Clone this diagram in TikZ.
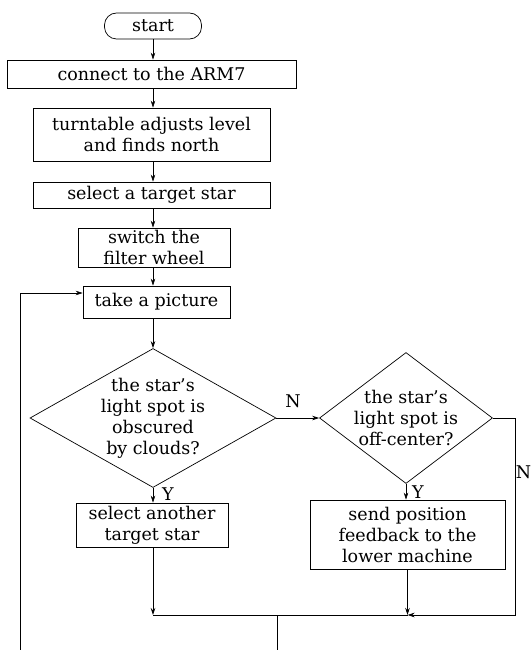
\documentclass[tikz,border=0pt]{standalone}
\usepackage{fontspec}
\setmainfont{DejaVu Serif}
\usetikzlibrary{arrows.meta,shapes.geometric}
\begin{document}
\begin{tikzpicture}[x=1pt,y=-1pt,line width=0.7pt,>={Stealth[length=7pt,width=4.5pt]},
  every node/.style={font=\fontsize{17.5}{21}\selectfont,align=center},
  box/.style={draw,inner sep=1pt},
  ask/.style={draw,diamond,inner sep=-30pt}]
\clip (0,0) rectangle (531,650);
\node[box,rounded corners=12pt,minimum width=97pt,minimum height=26pt] (start) at (153,26) {start};
\node[box,minimum width=289pt,minimum height=28pt] (arm) at (151.5,74) {connect to the ARM7};
\node[box,minimum width=237pt,minimum height=53pt] (level) at (151.5,134.5) {turntable adjusts level\\ and finds north};
\node[box,minimum width=237pt,minimum height=26pt] (target) at (151.5,195) {select a target star};
\node[box,minimum width=152pt,minimum height=39pt] (filter) at (154,247.5) {switch the\\ filter wheel};
\node[box,minimum width=147pt,minimum height=32pt] (photo) at (156.5,302) {take a picture};
\node[ask,minimum width=246pt,minimum height=139pt] (cloud) at (153,418) {the star's\\ light spot is\\ obscured\\ by clouds?};
\node[ask,minimum width=173pt,minimum height=131pt] (offc) at (406,418) {the star's\\ light spot is\\ off-center?};
\node[box,minimum width=152pt,minimum height=44pt] (other) at (152,525) {select another\\ target star};
\node[box,minimum width=195pt,minimum height=69pt] (send) at (407.5,534.5) {send position\\ feedback to the\\ lower machine};
\node (n1) at (293,401) {N};
\node (y1) at (168,494) {Y};
\node (y2) at (418,492) {Y};
\node (n2) at (523.5,472) {N};
\coordinate (join) at (277,615);
\coordinate (back) at (20,293);
\draw[->] (start) -- (start |- arm.north);
\draw[->] (start |- arm.south) -- (start |- level.north);
\draw[->] (start |- level.south) -- (start |- target.north);
\draw[->] (start |- target.south) -- (start |- filter.north);
\draw[->] (start |- filter.south) -- (start |- photo.north);
\draw[->] (start |- photo.south) -- (cloud.north);
\draw[->] (cloud.east) -- (offc.west);
\draw[->] (cloud.south) -- (cloud.south |- other.north);
\draw[->] (offc.south) -- (offc.south |- send.north);
\draw[->] (cloud.south |- other.south) -- (cloud.south |- join);
\draw[->] (send.south) -- (send.south |- join);
\draw[->] (offc.east) -- ++(22,0) |- (send.south |- join);
\draw (cloud.south |- join) -- (send.south |- join);
\draw (join) -- ++(0,40);
\draw[->] (back |- 0,660) -- (back) -- (back -| photo.west);
\end{tikzpicture}
\end{document}
